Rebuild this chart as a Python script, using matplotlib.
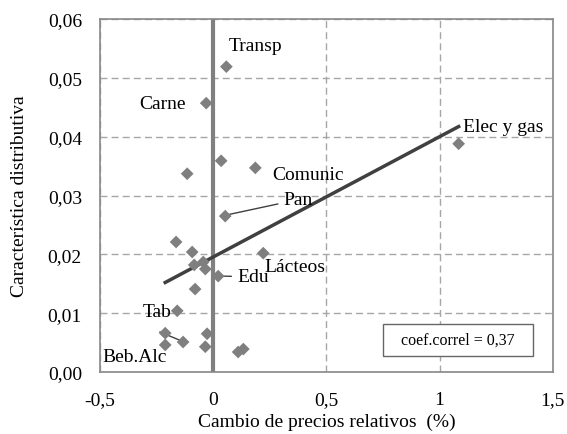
import numpy as np
import matplotlib.pyplot as plt
from matplotlib.patches import Rectangle

plt.rcParams['font.family'] = ['Liberation Serif', 'DejaVu Serif']

# cambio de precios relativos (%) y característica distributiva
cambio = [0.058, -0.031, 0.035, 0.186, -0.115, 0.053, -0.164, -0.093, 0.221,
          -0.084, -0.044, -0.035, 0.022, -0.080, -0.159, -0.212, -0.133,
          -0.027, -0.212, -0.035, 0.110, 0.133, 1.084]
caract = [0.0519, 0.0457, 0.0359, 0.0347, 0.0337, 0.0265, 0.0221, 0.0204, 0.0202,
          0.0182, 0.0187, 0.0175, 0.0163, 0.0141, 0.0104, 0.0066, 0.0051,
          0.0065, 0.0046, 0.0043, 0.0034, 0.0039, 0.0388]
x_ticks = [-0.5, 0, 0.5, 1, 1.5]
x_labels = ['-0,5', '0', '0,5', '1', '1,5']
y_ticks = [0, 0.01, 0.02, 0.03, 0.04, 0.05, 0.06]
y_labels = ['0,00', '0,01', '0,02', '0,03', '0,04', '0,05', '0,06']

x = np.array(cambio)
y = np.array(caract)

fig = plt.figure(figsize=(5.67, 4.35), dpi=100)
ax = fig.add_axes([0.1764, 0.1425, 0.7986, 0.8115])

ax.set_xlim(-0.5, 1.5)
ax.set_ylim(0, 0.06)
ax.set_xticks(x_ticks)
ax.set_xticklabels(x_labels)
ax.set_yticks(y_ticks)
ax.set_yticklabels(y_labels)
ax.tick_params(length=0, labelsize=14)
ax.tick_params(axis='x', pad=14)
ax.tick_params(axis='y', pad=13)

ax.grid(True, linestyle=(0, (5, 3)), color='#a6a6a6', linewidth=1)
ax.set_axisbelow(True)
for s in ax.spines.values():
    s.set_color('#888888')
    s.set_linewidth(1.2)

ax.axvline(0, color='#808080', linewidth=3, zorder=2)

# linea de tendencia
b, a = np.polyfit(x, y, 1)
xs = np.array([x.min(), x.max()])
ax.plot(xs, a + b * xs, color='#404040', linewidth=2.5, zorder=3)

ax.scatter(x, y, marker='D', s=42, color='#7f7f7f', edgecolors='none', zorder=4)

fs = 14
ax.text(0.07, 0.0555, 'Transp', fontsize=fs, ha='left', va='center')
ax.text(-0.12, 0.0457, 'Carne', fontsize=fs, ha='right', va='center')
ax.text(0.26, 0.0336, 'Comunic', fontsize=fs, ha='left', va='center')
ax.annotate('Pan', xy=(0.06, 0.0267), xytext=(0.31, 0.0293), fontsize=fs,
            ha='left', va='center',
            arrowprops=dict(arrowstyle='-', color='#404040', lw=1, shrinkA=2, shrinkB=2))
ax.text(0.225, 0.0179, 'Lácteos', fontsize=fs, ha='left', va='center')
ax.annotate('Edu', xy=(0.03, 0.0163), xytext=(0.105, 0.0162), fontsize=fs,
            ha='left', va='center',
            arrowprops=dict(arrowstyle='-', color='#404040', lw=1, shrinkA=2, shrinkB=2))
ax.text(-0.31, 0.0103, 'Tab', fontsize=fs, ha='left', va='center')
ax.plot([-0.235, -0.135], [0.0068, 0.0052], color='#404040', lw=1, zorder=3)
ax.text(-0.49, 0.0027, 'Beb.Alc', fontsize=fs, ha='left', va='center')
ax.text(1.105, 0.0418, 'Elec y gas', fontsize=fs, ha='left', va='center')

ax.add_patch(Rectangle((0.748, 0.0027), 0.664, 0.0055, facecolor='white',
                       edgecolor='#666666', lw=1, zorder=5))
ax.text(1.08, 0.00545, 'coef.correl = 0,37', fontsize=11.5, ha='center', va='center',
        zorder=6)

ax.set_xlabel('Cambio de precios relativos  (%)', fontsize=14, labelpad=3)
ax.set_ylabel('Característica distributiva', fontsize=14, labelpad=14)

fig.savefig('out.png', dpi=100)
